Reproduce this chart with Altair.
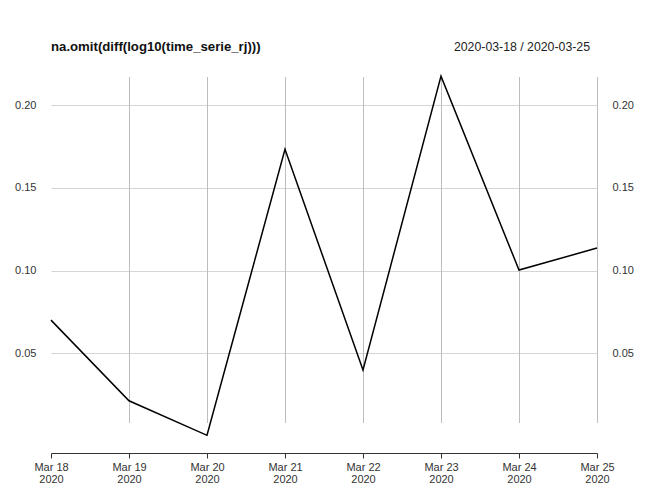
import altair as alt
import pandas as pd

dates = ["2020-03-18", "2020-03-19", "2020-03-20", "2020-03-21",
         "2020-03-22", "2020-03-23", "2020-03-24", "2020-03-25"]
values = [0.0700, 0.0212, 0.0003, 0.1734, 0.0398, 0.2176, 0.1003, 0.1136]
y_ticks = [0.05, 0.10, 0.15, 0.20]
title_left = "na.omit(diff(log10(time_serie_rj)))"
title_right = "2020-03-18 / 2020-03-25"

df = pd.DataFrame({"date": dates, "value": values})

FONT = "Liberation Sans"
HGRID = "#d6d6d6"
VGRID = "#bdbdbd"
LABEL = "#333333"

xscale = alt.Scale(type="point", padding=0)
yscale = alt.Scale(domain=[-0.0104, 0.2177], nice=False, zero=False)

xaxis = alt.Axis(labelExpr="[utcFormat(toDate(datum.value), '%b %d'), utcFormat(toDate(datum.value), '%Y')]",
                 labelAngle=0, domainColor="#333333", tickColor="#333333",
                 tickSize=5, labelPadding=3, labelFont=FONT, labelFontSize=11,
                 labelColor=LABEL, labelLineHeight=12, grid=False, title=None)

base = alt.Chart(df)

vrules = base.mark_rule(color=VGRID, strokeWidth=1, xOffset=0.5).encode(
    x=alt.X("date:O", scale=xscale, axis=xaxis),
    y=alt.value(1),
    y2=alt.value(347),
).transform_filter(alt.datum.date != dates[0])

line_left = base.mark_line(color="black", strokeWidth=1.5).encode(
    x=alt.X("date:O", scale=xscale, axis=xaxis),
    y=alt.Y("value:Q", scale=yscale, title=None,
            axis=alt.Axis(values=y_ticks, format=".2f", orient="left", domain=False,
                          ticks=False, grid=True, gridColor=HGRID, labelPadding=15,
                          labelFont=FONT, labelFontSize=11, labelColor=LABEL)),
)

line_right = base.mark_line(opacity=0).encode(
    x=alt.X("date:O", scale=xscale, axis=xaxis),
    y=alt.Y("value:Q", scale=yscale, title=None,
            axis=alt.Axis(values=y_ticks, format=".2f", orient="right", domain=False,
                          ticks=False, grid=False, labelPadding=15,
                          labelFont=FONT, labelFontSize=11, labelColor=LABEL)),
)

t_left = alt.Chart(alt.Data(values=[{"t": title_left}])).mark_text(
    align="left", baseline="middle", font=FONT, fontSize=13.2, fontWeight="bold", color="#111111"
).encode(text="t:N", x=alt.value(0), y=alt.value(-29))

t_right = alt.Chart(alt.Data(values=[{"t": title_right}])).mark_text(
    align="right", baseline="middle", font=FONT, fontSize=12.3, color="#222222"
).encode(text="t:N", x=alt.value(539), y=alt.value(-29))

chart = alt.layer(vrules, line_left, line_right, t_left, t_right).resolve_axis(
    y="independent"
).properties(
    width=546, height=377,
    autosize=alt.AutoSizeParams(type="none"),
    padding={"left": 43, "top": 68, "right": 40, "bottom": 40},
).configure_view(stroke=None)

chart.save("out.html", embed_options={"renderer": "svg", "actions": False})
